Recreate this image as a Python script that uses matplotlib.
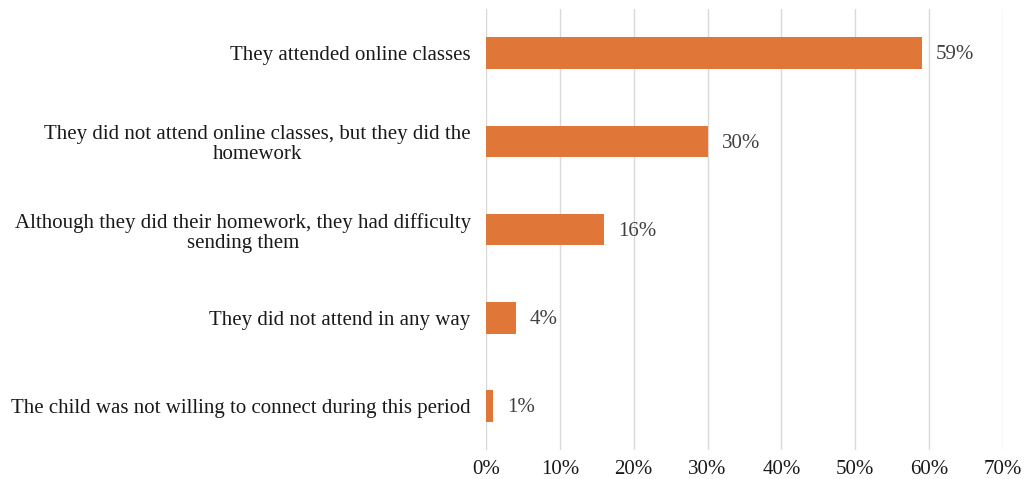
import numpy as np
import matplotlib.pyplot as plt

plt.rcParams['font.family'] = 'Liberation Serif'

categories = [
    "They attended online classes",
    "They did not attend online classes, but they did the\nhomework",
    "Although they did their homework, they had difficulty\nsending them",
    "They did not attend in any way",
    "The child was not willing to connect during this period",
]
values = [59, 30, 16, 4, 1]
xticks = [0, 10, 20, 30, 40, 50, 60, 70]

fig = plt.figure(figsize=(10.26, 4.79), dpi=100)
ax = fig.add_axes([0.4737, 0.0605, 0.5039, 0.9205])

y = np.arange(len(categories))
ax.barh(y, values, height=0.36, color='#E07638', zorder=3)
for yi, v in zip(y, values):
    ax.text(v + 1.9, yi + 0.02, f"{v}%", va='center', ha='left', fontsize=15, color='#404040')

ax.set_yticks(y)
ax.set_yticklabels(categories, fontsize=15, color='#1a1a1a', multialignment='center',
                   linespacing=1.1)
ax.set_ylim(len(categories) - 0.5, -0.5)
ax.set_xlim(0, 70)
ax.set_xticks(xticks)
ax.set_xticklabels([f"{t}%" for t in xticks], fontsize=15, color='#1a1a1a')
ax.tick_params(length=0, axis='y', pad=11)
ax.tick_params(length=0, axis='x', pad=7)
ax.grid(axis='x', color='#d9d9d9', linewidth=1, zorder=0)
for s in ax.spines.values():
    s.set_visible(False)

fig.savefig('out.png', dpi=100)
